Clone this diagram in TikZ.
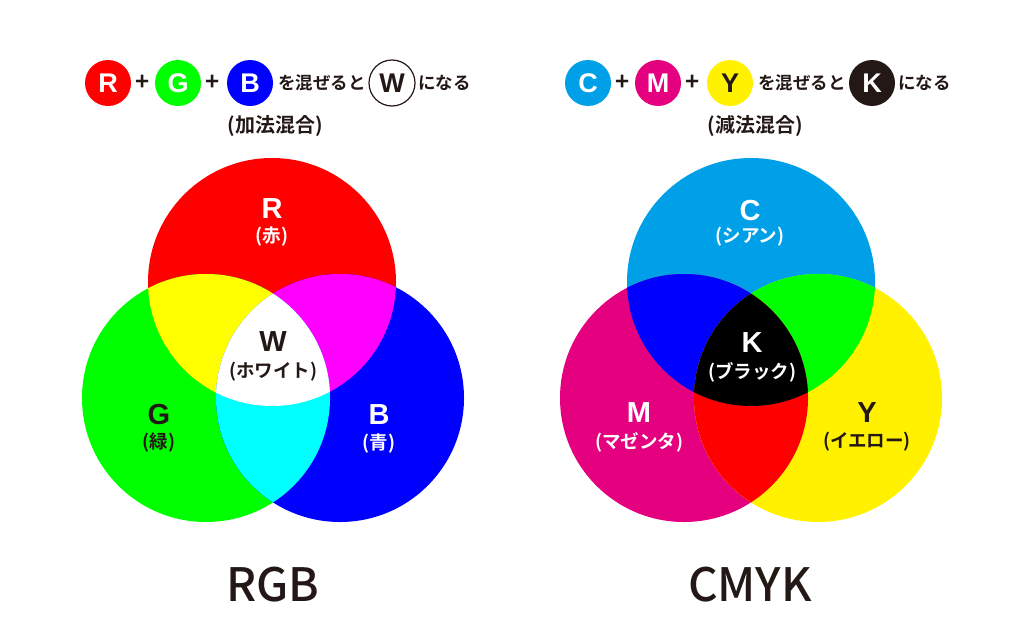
\documentclass[tikz,border=0pt]{standalone}
\usepackage{fontspec}
\setmainfont{Liberation Sans}
\newfontfamily\jpfont{Noto Sans CJK JP}[BoldFont={Noto Sans CJK JP Bold}]
\newfontfamily\titlefont{Noto Sans CJK JP Medium}
\usepackage{xcolor}
\usepackage{tikz}
\usetikzlibrary{positioning}

\definecolor{rgbR}{HTML}{FF0000}
\definecolor{rgbG}{HTML}{00FF00}
\definecolor{rgbB}{HTML}{0000FF}
\definecolor{rgbY}{HTML}{FFFF00}
\definecolor{rgbM}{HTML}{FF00FF}
\definecolor{rgbC}{HTML}{00FFFF}
\definecolor{rgbW}{HTML}{FFFFFF}
\definecolor{rgbK}{HTML}{000000}
\definecolor{cmykC}{HTML}{00A0E9}
\definecolor{cmykM}{HTML}{E4007F}
\definecolor{cmykY}{HTML}{FFF100}
\definecolor{ink}{HTML}{231815}

\tikzset{
  dot/.style={circle,minimum size=46pt,inner sep=0pt,font=\bfseries\fontsize{27}{27}\selectfont},
  plus/.style={inner sep=0pt,text=ink,font=\jpfont\bfseries\fontsize{24}{24}\selectfont},
  say/.style={inner sep=0pt,text=ink,font=\jpfont\bfseries\fontsize{17.5}{17.5}\selectfont},
  kind/.style={inner sep=0pt,text=ink,font=\jpfont\bfseries\fontsize{20}{20}\selectfont},
  letter/.style={inner sep=0pt,font=\bfseries\fontsize{29}{29}\selectfont},
  jname/.style={inner sep=0pt,font=\jpfont\bfseries\fontsize{18.5}{18.5}\selectfont},
  title/.style={inner sep=0pt,text=ink,font=\titlefont\fontsize{46}{46}\selectfont}
}

\begin{document}
\begin{tikzpicture}[x=1pt,y=-1pt]
\useasboundingbox (0,0) rectangle (1024,640);
\def\rad{124pt}

% RGB legend
\node[dot,fill=rgbR,text=white] (dotR) at (108,83) {R};
\node[plus] (plusRG) at (143,83) {+};
\node[dot,fill=rgbG,text=white] (dotG) at (178,83) {G};
\node[plus] (plusGB) at (213,83) {+};
\node[dot,fill=rgbB,text=white] (dotB) at (250,83) {B};
\node[say,anchor=west] (mixRGB) at (278,83) {を混ぜると};
\node[dot,fill=white,draw=ink,line width=1.2pt,text=ink] (dotW) at (392,83) {W};
\node[say,anchor=west] (resRGB) at (418,83) {になる};
\node[kind] (addmix) at (275,126) {(加法混合)};

% CMYK legend
\node[dot,fill=cmykC,text=white] (dotC) at (588,83) {C};
\node[plus] (plusCM) at (623,83) {+};
\node[dot,fill=cmykM,text=white] (dotM) at (658,83) {M};
\node[plus] (plusMY) at (693,83) {+};
\node[dot,fill=cmykY,text=ink] (dotY) at (730,83) {Y};
\node[say,anchor=west] (mixCMY) at (758,83) {を混ぜると};
\node[dot,fill=ink,text=white] (dotK) at (872,83) {K};
\node[say,anchor=west] (resCMY) at (898,83) {になる};
\node[kind] (submix) at (755,126) {(減法混合)};

% circle centres
\coordinate (R) at (272,282);
\coordinate (G) at (206,398);
\coordinate (B) at (340,398);
\coordinate (C) at (751,282);
\coordinate (M) at (684,398);
\coordinate (Y) at (818,398);

\foreach \p/\c in {R/rgbR,G/rgbG,B/rgbB,C/cmykC,M/cmykM,Y/cmykY}
  \fill[\c] (\p) circle (\rad);
\foreach \a/\b/\c in {R/G/rgbY,R/B/rgbM,G/B/rgbC,C/M/rgbB,C/Y/rgbG,M/Y/rgbR}
{
  \begin{scope}
    \clip (\a) circle (\rad);
    \fill[\c] (\b) circle (\rad);
  \end{scope}
}
\begin{scope}
  \clip (R) circle (\rad); \clip (G) circle (\rad);
  \fill[rgbW] (B) circle (\rad);
\end{scope}
\begin{scope}
  \clip (C) circle (\rad); \clip (M) circle (\rad);
  \fill[rgbK] (Y) circle (\rad);
\end{scope}

% labels
\node[letter,text=white] (txtR) at (272,209) {R};
\node[jname,text=white] (jpR) at (272,237) {(赤)};
\node[letter,text=ink] (txtW) at (273,342) {W};
\node[jname,text=ink] (jpW) at (273,372) {(ホワイト)};
\node[letter,text=ink] (txtG) at (159,415) {G};
\node[jname,text=ink] (jpG) at (159,443) {(緑)};
\node[letter,text=white] (txtB) at (379,415) {B};
\node[jname,text=white] (jpB) at (379,443) {(青)};

\node[letter,text=white] (txtC) at (750,211) {C};
\node[jname,text=white] (jpC) at (750,237) {(シアン)};
\node[letter,text=white] (txtK) at (752,343) {K};
\node[jname,text=white] (jpK) at (752,372) {(ブラック)};
\node[letter,text=white] (txtM) at (639,413) {M};
\node[jname,text=white] (jpM) at (639,442) {(マゼンタ)};
\node[letter,text=ink] (txtY) at (867,413) {Y};
\node[jname,text=ink] (jpY) at (867,442) {(イエロー)};

\node[title] (nameRGB) at (273,585) {RGB};
\node[title] (nameCMYK) at (750,585) {CMYK};
\end{tikzpicture}
\end{document}
